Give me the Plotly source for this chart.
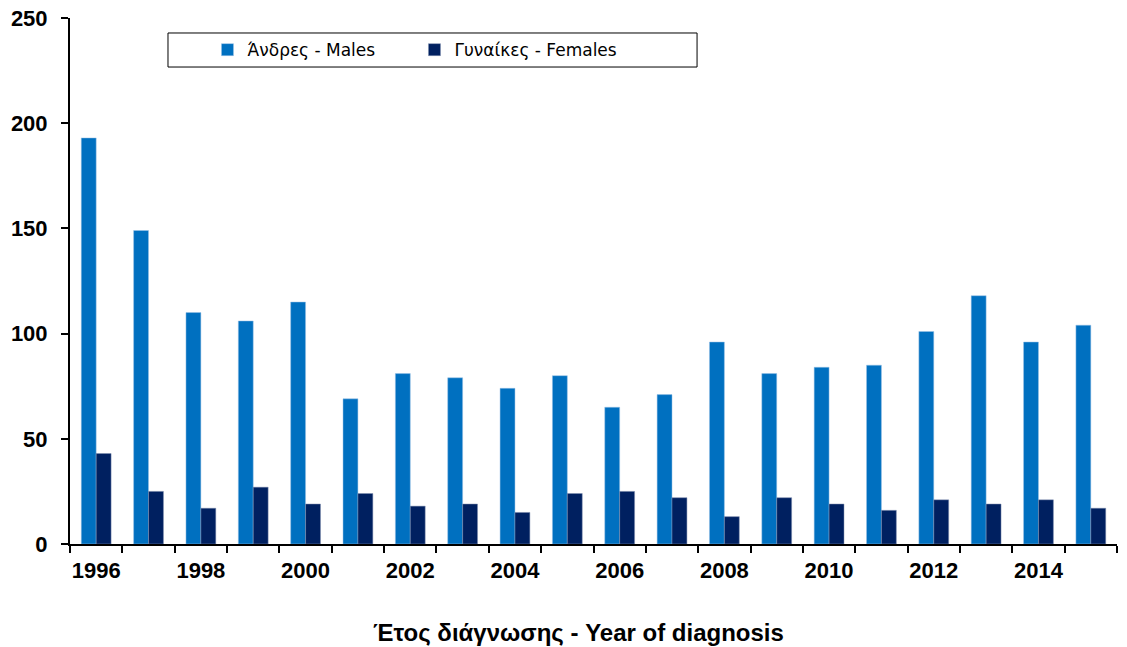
import plotly.graph_objects as go

years = list(range(1996, 2016))
males = [193, 149, 110, 106, 115, 69, 81, 79, 74, 80, 65, 71, 96, 81, 84, 85, 101, 118, 96, 104]
females = [43, 25, 17, 27, 19, 24, 18, 19, 15, 24, 25, 22, 13, 22, 19, 16, 21, 19, 21, 17]
label_years = list(range(1996, 2016, 2))
boundaries = [y - 0.5 for y in range(1996, 2017)]

FONT = "Liberation Sans, Arial, sans-serif"

fig = go.Figure()
fig.add_trace(go.Bar(x=years, y=males, name="Άνδρες - Males", marker_color="#0070C0",
                     marker_line=dict(color="#9DC3E6", width=0.5)))
fig.add_trace(go.Bar(x=years, y=females, name="Γυναίκες - Females", marker_color="#002060",
                     marker_line=dict(color="#8090B0", width=0.5)))

# legend box
fig.add_shape(type="rect", xref="paper", yref="paper",
              x0=0.0936, x1=0.5989, y0=0.9068, y1=0.9715,
              line=dict(color="black", width=1), fillcolor="white", layer="below")

# x-axis title
fig.add_annotation(text="Έτος διάγνωσης - Year of diagnosis", xref="paper", yref="paper",
                   x=0.486, y=-0.169, xanchor="center", yanchor="middle", showarrow=False,
                   font=dict(size=24, family=FONT, weight="bold", color="black"))

fig.update_layout(
    width=1127, height=647,
    margin=dict(l=70, r=10, t=18, b=103, autoexpand=False),
    paper_bgcolor="white", plot_bgcolor="white",
    barmode="group", bargap=0.43, bargroupgap=0,
    font=dict(family=FONT, color="black"),
    legend=dict(orientation="h", x=0.1313, y=0.939, xanchor="left", yanchor="middle",
                borderwidth=0, bgcolor="rgba(0,0,0,0)",
                font=dict(size=17, color="black", family="DejaVu Sans, sans-serif"), itemwidth=30,
                entrywidth=162, entrywidthmode="pixels", traceorder="normal",
                tracegroupgap=0),
    xaxis=dict(range=[1995.5, 2015.5], tickmode="array", tickvals=label_years,
               ticktext=[str(y) for y in label_years], ticks="", automargin=False,
               tickfont=dict(size=22, family=FONT, weight="bold"), ticklabelstandoff=6,
               ticklabeloverflow="allow",
               showline=True, linecolor="black", linewidth=2, showgrid=False, zeroline=False,
               minor=dict(tickmode="array", tickvals=boundaries, ticks="outside", ticklen=7,
                          tickwidth=2, tickcolor="black", showgrid=False)),
    yaxis=dict(range=[0, 250], tickvals=[0, 50, 100, 150, 200, 250], ticks="outside",
               ticklen=7, tickwidth=2, tickcolor="black", automargin=False,
               tickfont=dict(size=22, family=FONT, weight="bold"), ticklabelstandoff=9,
               ticklabeloverflow="allow",
               showline=True, linecolor="black", linewidth=2, showgrid=False, zeroline=False),
)

fig.write_html("out.html", config={"displayModeBar": False},
               post_script="document.body.style.margin='0';")
